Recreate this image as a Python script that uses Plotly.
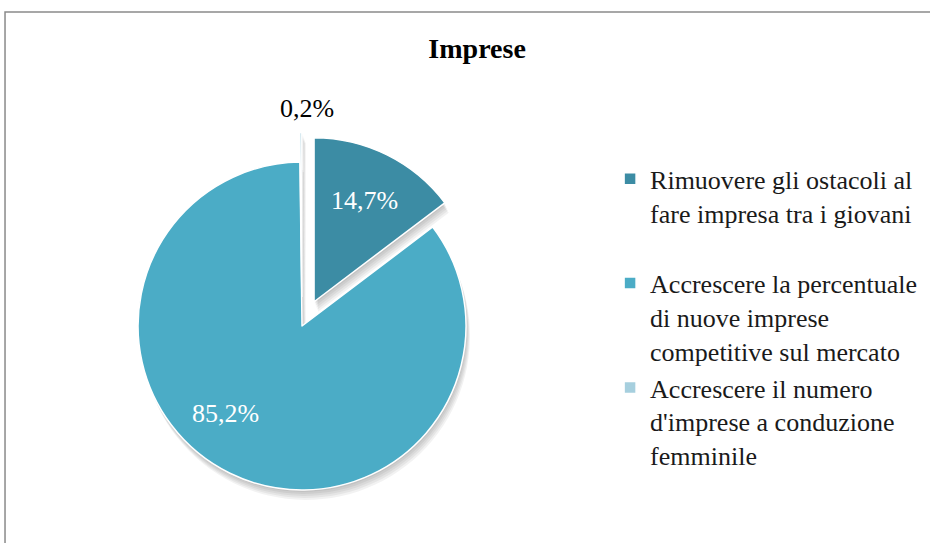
import plotly.graph_objects as go

# Pie data: share of responses per objective (percent)
categories = [
    "Rimuovere gli ostacoli al<br>fare impresa tra i giovani<br> ",
    "Accrescere la percentuale<br>di nuove imprese<br>competitive sul mercato",
    "Accrescere il numero<br>d'imprese a conduzione<br>femminile",
]
values = [14.7, 85.2, 0.2]
colors = ["#3C8CA4", "#4BACC6", "#A6CFDE"]
pulls = [0.165, 0.0, 0.18]

serif = "Liberation Serif, Times New Roman, serif"
W, H = 930, 543

# pie domain in paper coordinates
dom_x = [0.1167, 0.5328]
dom_y = [0.0433, 0.756]


def pct(v):
    return f"{v:.1f}%".replace(".", ",")


fig = go.Figure()

# soft drop shadow: stacked translucent copies shifted downwards
for i, dy in enumerate([2, 4, 6, 8, 10]):
    off = dy / H
    fig.add_trace(go.Pie(
        labels=[f"ombra{i}-{k}" for k in range(len(values))],
        values=values,
        sort=False,
        direction="clockwise",
        rotation=0,
        pull=pulls,
        marker=dict(colors=["rgba(0,0,0,0.05)"] * len(values),
                    line=dict(width=0)),
        textinfo="none",
        hoverinfo="skip",
        showlegend=False,
        domain=dict(x=[dom_x[0] + 0.4 * off * H / W, dom_x[1] + 0.4 * off * H / W],
                    y=[dom_y[0] - off, dom_y[1] - off]),
    ))

fig.add_trace(go.Pie(
    labels=categories,
    values=values,
    sort=False,
    direction="clockwise",
    rotation=0,
    pull=pulls,
    marker=dict(colors=colors, line=dict(color="white", width=1.5)),
    text=[pct(v) for v in values],
    texttemplate=["%{text}", "", ""],
    textposition=["inside", "none", "none"],
    insidetextorientation="horizontal",
    insidetextfont=dict(family=serif, size=26, color="white"),
    domain=dict(x=dom_x, y=dom_y),
    hoverinfo="label+value",
))

fig.update_layout(
    width=W,
    height=H,
    margin=dict(l=0, r=0, t=0, b=0),
    paper_bgcolor="white",
    plot_bgcolor="white",
    title=dict(
        text="<b>Imprese</b>",
        font=dict(family=serif, size=28, color="black"),
        x=0.513, xanchor="center",
        y=0.912, yanchor="middle",
    ),
    legend=dict(
        x=0.656, xanchor="left",
        y=0.714, yanchor="top",
        valign="top",
        font=dict(family=serif, size=26, color="#1a1a1a"),
        bgcolor="rgba(0,0,0,0)",
        traceorder="normal",
    ),
    annotations=[
        dict(text=pct(values[1]), x=0.243, y=0.2394, xref="paper", yref="paper",
             xanchor="center", yanchor="middle", showarrow=False,
             font=dict(family=serif, size=26, color="white")),
        dict(text=pct(values[2]), x=0.330, y=0.801, xref="paper", yref="paper",
             xanchor="center", yanchor="middle", showarrow=False,
             font=dict(family=serif, size=26, color="black")),
    ],
    shapes=[
        dict(type="rect", xref="paper", yref="paper",
             x0=0.0054, x1=1.05, y0=-0.05, y1=1 - 12 / H,
             line=dict(color="#8a8a8a", width=1.5), layer="below"),
    ],
)

fig.write_html("out.html")
